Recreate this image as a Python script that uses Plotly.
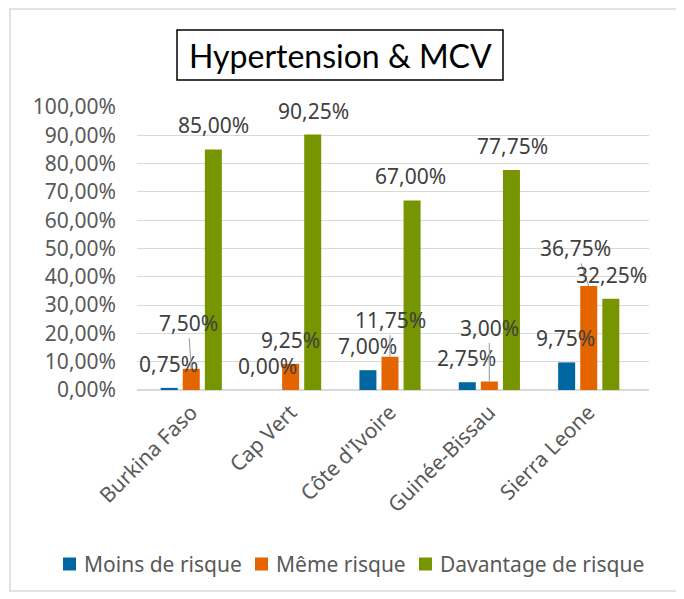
import plotly.graph_objects as go

# ---- data ----
countries = ["Burkina Faso", "Cap Vert", "Côte d'Ivoire", "Guinée-Bissau", "Sierra Leone"]
moins_de_risque = [0.0075, 0.0, 0.07, 0.0275, 0.0975]
meme_risque = [0.075, 0.0925, 0.1175, 0.03, 0.3675]
davantage_de_risque = [0.85, 0.9025, 0.67, 0.7775, 0.3225]
series_names = ["Moins de risque", "Même risque", "Davantage de risque"]
y_tick_values = [0.0, 0.1, 0.2, 0.3, 0.4, 0.5, 0.6, 0.7, 0.8, 0.9, 1.0]
title_text = "Hypertension & MCV"

# ---- style ----
colors = ["#0066A1", "#E46400", "#779500"]
OFF = 8  # page body margin
W, H = 676, 591
L, R, T, B = 129, 35, 99, 209
plot_w = W - L - R
plot_h = H - T - B
bargap = 1 / 3
bargroupgap = 0.23
slot = plot_w / len(countries) * (1 - bargap) / 3
bar_shift = [-slot, 0, slot]
label_font = dict(family="Noto Sans", size=21, color="#404040")
axis_font = dict(family="Noto Sans", size=21, color="#595959")
legend_font = dict(family="Noto Sans", size=21, color="#595959")
legend_square_left = [63, 255, 419]   # page px
legend_square_size = 13
legend_center_y = 564

# label placement tweaks (pixels): (series index, country index) -> (dx, dy, leader)
label_tweaks = {
    (1, 0): (-3, -46, True),
    (1, 2): (0, -37, True),
    (1, 3): (0, -54, True),
    (1, 4): (-13, -38, True),
    (2, 0): (-1, -24, False),
    (2, 2): (-2, -24, False),
}

series = [moins_de_risque, meme_risque, davantage_de_risque]

fig = go.Figure()
for name, vals, col in zip(series_names, series, colors):
    fig.add_trace(go.Bar(x=countries, y=vals, name=name, marker_color=col,
                         marker_line_width=0, showlegend=False))

def fmt(v):
    return f"{v * 100:.2f}%".replace(".", ",")

annotations = []
for si, vals in enumerate(series):
    for ci, v in enumerate(vals):
        dx, dy, leader = label_tweaks.get((si, ci), (0, -24, False))
        if leader:
            annotations.append(dict(
                x=countries[ci], y=v, xref="x", yref="y", text=fmt(v),
                xshift=bar_shift[si], showarrow=True, ax=dx, ay=dy,
                arrowhead=0, arrowwidth=1.2, arrowcolor="#a6a6a6",
                standoff=0, font=label_font))
        else:
            annotations.append(dict(
                x=countries[ci], y=v, xref="x", yref="y", text=fmt(v),
                xshift=bar_shift[si] + dx, yshift=-dy, showarrow=False,
                xanchor="center", yanchor="middle", font=label_font))

def px_to_paper_x(px):  # px given in page coordinates
    return (px - OFF - L) / plot_w

def py_to_paper_y(py):
    return (H - B - (py - OFF)) / plot_h

# title
annotations.append(dict(
    x=px_to_paper_x(340), y=py_to_paper_y(55), xref="paper", yref="paper",
    text=title_text, showarrow=False, xanchor="center", yanchor="middle",
    font=dict(family="Lato", size=32, color="#000000")))

shapes = [
    dict(type="rect", xref="paper", yref="paper",
         x0=px_to_paper_x(177), x1=px_to_paper_x(503),
         y0=py_to_paper_y(80), y1=py_to_paper_y(30),
         line=dict(color="#000000", width=1.5), layer="above"),
    dict(type="rect", xref="paper", yref="paper",
         x0=px_to_paper_x(10), x1=px_to_paper_x(678),
         y0=py_to_paper_y(591), y1=py_to_paper_y(9),
         line=dict(color="#d9d9d9", width=1.5), layer="below"),
]

# legend (drawn as squares + text)
for name, col, sx in zip(series_names, colors, legend_square_left):
    half = legend_square_size / 2
    shapes.append(dict(
        type="rect", xref="paper", yref="paper",
        x0=px_to_paper_x(sx), x1=px_to_paper_x(sx + legend_square_size),
        y0=py_to_paper_y(legend_center_y + half),
        y1=py_to_paper_y(legend_center_y - half),
        fillcolor=col, line=dict(width=0)))
    annotations.append(dict(
        x=px_to_paper_x(sx + legend_square_size + 6),
        y=py_to_paper_y(legend_center_y), xref="paper", yref="paper",
        text=name, showarrow=False, xanchor="left", yanchor="middle",
        font=legend_font))

fig.update_layout(
    width=W, height=H,
    margin=dict(l=L, r=R, t=T, b=B, autoexpand=False),
    paper_bgcolor="white", plot_bgcolor="white",
    barmode="group", bargap=bargap, bargroupgap=bargroupgap,
    separators=", ",
    showlegend=False,
    annotations=annotations,
    shapes=shapes,
)
fig.update_yaxes(range=[0, 1.0], tickvals=y_tick_values, tickformat=".2%",
                 showgrid=True, gridcolor="#d9d9d9", gridwidth=1,
                 zeroline=True, zerolinecolor="#d9d9d9", zerolinewidth=1.5,
                 tickfont=axis_font, ticks="", ticklabelstandoff=20,
                 fixedrange=True)
fig.update_xaxes(tickangle=-45, tickfont=axis_font, ticks="", showgrid=False,
                 showline=False, ticklabelstandoff=5, fixedrange=True)

fig.write_html("out.html")
